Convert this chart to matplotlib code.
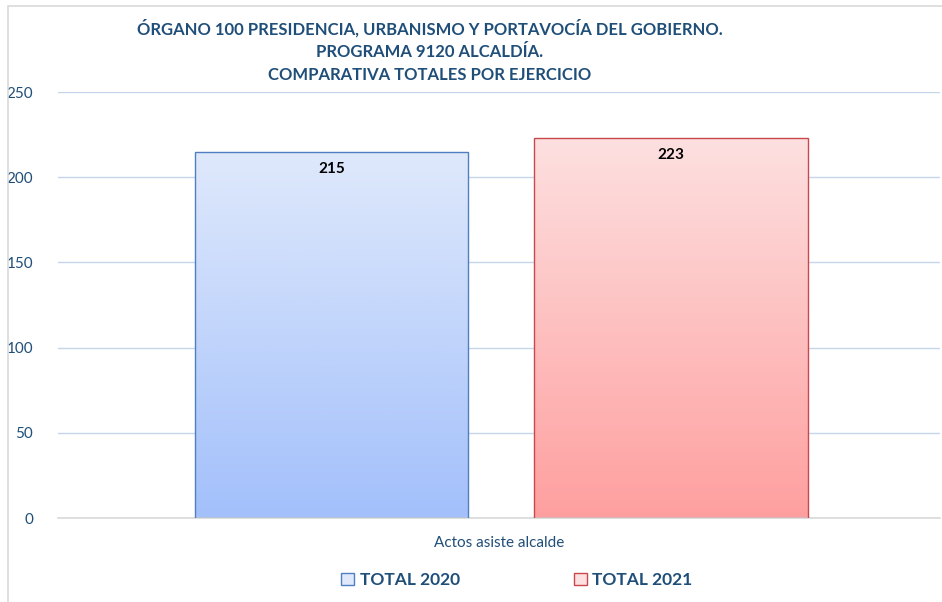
import matplotlib.pyplot as plt
import numpy as np
from matplotlib.patches import Rectangle
from matplotlib.colors import LinearSegmentedColormap

plt.rcParams['font.family'] = ['Lato', 'DejaVu Sans']

category = 'Actos asiste alcalde'
series = ['TOTAL 2020', 'TOTAL 2021']
values = [215, 223]
yticks = [0, 50, 100, 150, 200, 250]

title = ('ÓRGANO 100 PRESIDENCIA, URBANISMO Y PORTAVOCÍA DEL GOBIERNO.\n'
         'PROGRAMA 9120 ALCALDÍA.\n'
         'COMPARATIVA TOTALES POR EJERCICIO')

navy = '#1f4e79'
tops = ['#dfe9fb', '#fde0e0']
bottoms = ['#a3c0fb', '#ff9f9f']
edges = ['#4f7fc0', '#c9484b']

fig = plt.figure(figsize=(9.42, 6.02), dpi=100)
# outer chart border
fig.patches.append(Rectangle((8 / 942, -0.01), 1.0, 1 - 6 / 602 + 0.01,
                             transform=fig.transFigure, fill=False,
                             edgecolor='#d9d9d9', linewidth=1.2))

ax = fig.add_axes([58 / 942, 84 / 602, 882 / 942, 426 / 602])
ax.set_xlim(-0.5, 0.5)
ax.set_ylim(0, 250)

offsets = [-0.19, 0.195]
width = 0.31
for i, v in enumerate(values):
    x0 = offsets[i] - width / 2
    cmap = LinearSegmentedColormap.from_list('g', [bottoms[i], tops[i]])
    grad = np.linspace(0, 1, 256).reshape(-1, 1)
    im = ax.imshow(grad, cmap=cmap, aspect='auto', origin='lower',
                   extent=[x0, x0 + width, 0, v], zorder=2)
    bar = ax.bar(offsets[i], v, width=width, facecolor='none',
                 edgecolor=edges[i], linewidth=1, zorder=3, label=series[i])
    im.set_clip_path(bar[0])
    ax.text(offsets[i], v - 6, str(v), ha='center', va='top',
            fontsize=11, fontweight='bold', color='black', zorder=4)

ax.set_yticks(yticks)
ax.set_yticklabels([str(t) for t in yticks], color=navy, fontsize=11)
ax.tick_params(axis='y', length=0, pad=18)
ax.set_xticks([])
ax.grid(axis='y', color='#c5d5ea', linewidth=1, zorder=0)
for s in ['top', 'right', 'left']:
    ax.spines[s].set_visible(False)
ax.spines['bottom'].set_color('#d9d9d9')
ax.spines['bottom'].set_linewidth(1.2)

fig.text(499 / 942, 1 - 543 / 602, category, ha='center', va='center',
         color=navy, fontsize=11)
fig.text(430 / 942, 1 - 51 / 602, title, ha='center', va='center',
         color=navy, fontsize=12, fontweight='bold', linespacing=1.5)

# legend
handles = [Rectangle((0, 0), 1, 1, facecolor=tops[i], edgecolor=edges[i])
           for i in range(2)]
fig.legend(handles, series, loc='center', bbox_to_anchor=(517 / 942, 1 - 580 / 602),
           ncol=2, frameon=False, columnspacing=6.6, handlelength=0.75,
           handleheight=0.75, handletextpad=0.3,
           prop={'weight': 'bold', 'size': 12.5}, labelcolor=navy)

fig.savefig('out.png', dpi=100)
